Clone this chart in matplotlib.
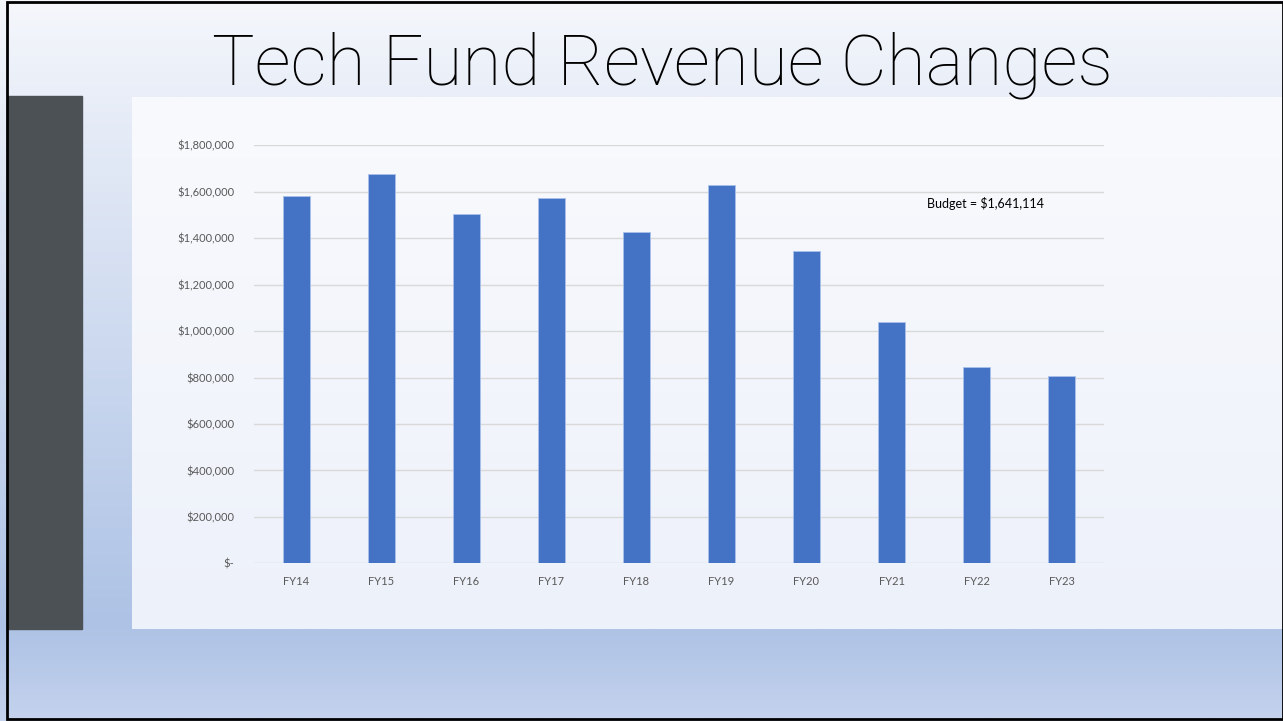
import numpy as np
import matplotlib
matplotlib.use("Agg")
import matplotlib.pyplot as plt
from matplotlib.colors import LinearSegmentedColormap
from matplotlib.patches import Rectangle
from matplotlib.ticker import FuncFormatter

years = ["FY14", "FY15", "FY16", "FY17", "FY18", "FY19", "FY20", "FY21", "FY22", "FY23"]
revenue = [1580000, 1675000, 1504000, 1573000, 1425000, 1628000, 1343000, 1040000, 847000, 808000]
budget_note = "Budget = $1,641,114"

W, H = 1283, 721
fig = plt.figure(figsize=(W / 100, H / 100), dpi=100)

# slide background gradient
bg = fig.add_axes([0, 0, 1, 1], zorder=0)
bg.axis("off")
grad = LinearSegmentedColormap.from_list(
    "bg", [(0, "#f5f7fb"), (0.13, "#e9eef8"), (0.87, "#adc2e5"), (1.0, "#c4d2ed")])
bg.imshow(np.linspace(0, 1, 300).reshape(-1, 1), cmap=grad, aspect="auto",
          extent=[0, W, H, 0])

# white chart panel
panel = LinearSegmentedColormap.from_list("panel", ["#f9fafd", "#edf1fa"])
bg.imshow(np.linspace(0, 1, 200).reshape(-1, 1), cmap=panel, aspect="auto",
          extent=[132, W, 629, 97])
# dark side block
bg.add_patch(Rectangle((8, 96), 74, 533, color="#4b5154"))
# border
bg.add_patch(Rectangle((7, 2), W - 7, 717, fill=False, ec="black", lw=2))
bg.set_xlim(0, W)
bg.set_ylim(H, 0)

fig.text(662 / W, 1 - 65 / H, "Tech Fund Revenue Changes", ha="center", va="center",
         fontsize=51.3, family="Roboto", fontweight="light", color="black")

ax = fig.add_axes([254 / W, 1 - 563.3 / H, 850 / W, 418 / H], zorder=2)
ax.patch.set_alpha(0)
x = np.arange(len(years))
ax.bar(x, revenue, width=0.31, color="#4472c4", edgecolor="#a9c1ea", linewidth=0.6, zorder=3)
ax.set_xlim(-0.5, len(years) - 0.5)
ax.set_ylim(0, 1800000)
ax.set_yticks(np.arange(0, 1800001, 200000))
ax.yaxis.set_major_formatter(FuncFormatter(lambda v, p: "$-" if v == 0 else f"${v:,.0f}"))
ax.set_xticks(x)
ax.set_xticklabels(years)
ax.grid(axis="y", color="#d9d9d9", lw=1, zorder=0)
for s in ax.spines.values():
    s.set_visible(False)
ax.tick_params(length=0, labelsize=8, labelcolor="#595959")
ax.tick_params(axis="y", pad=14)
ax.tick_params(axis="x", pad=9)
for lab in ax.get_xticklabels() + ax.get_yticklabels():
    lab.set_family("Lato")

ax.text(927 / W, 1 - 203 / H, budget_note, transform=fig.transFigure, ha="left",
        va="center", fontsize=9, family="Lato", color="black")

fig.savefig("out.png", dpi=100)
